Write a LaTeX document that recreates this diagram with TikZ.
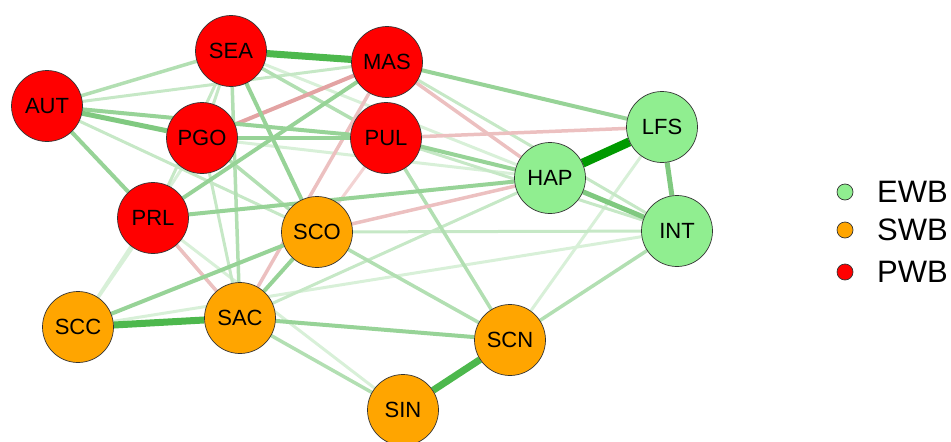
\documentclass[tikz,border=0pt]{standalone}
\usepackage{fontspec}
\setmainfont{Liberation Sans}
\usetikzlibrary{backgrounds}
\definecolor{lgreen}{HTML}{90EE90}
\definecolor{orng}{HTML}{FFA500}
\definecolor{gA}{HTML}{009A00}
\definecolor{gB}{HTML}{4DB84D}
\definecolor{gC}{HTML}{80C980}
\definecolor{gD}{HTML}{97D397}
\definecolor{gE}{HTML}{B2DFB2}
\definecolor{gF}{HTML}{C6E8C6}
\definecolor{gG}{HTML}{D8F0D8}
\definecolor{rA}{HTML}{E3A3A3}
\definecolor{rB}{HTML}{ECC0C0}
\definecolor{rC}{HTML}{F3D3D3}
\tikzset{
  nd/.style={circle, draw=black!80, line width=0.7pt, minimum size=71pt, inner sep=0pt, font=\fontsize{22}{22}\selectfont},
  pwb/.style={nd, fill=red},
  swb/.style={nd, fill=orng},
  ewb/.style={nd, fill=lgreen},
  lg/.style={circle, draw=black!80, line width=0.7pt, minimum size=16pt, inner sep=0pt},
  lt/.style={anchor=west, inner sep=0pt, font=\fontsize{31}{31}\selectfont},
  eA/.style={draw=gA, line width=9pt},
  eB/.style={draw=gB, line width=7pt},
  eC/.style={draw=gC, line width=5pt},
  eD/.style={draw=gD, line width=4pt},
  eE/.style={draw=gE, line width=3.5pt},
  eF/.style={draw=gF, line width=3pt},
  eG/.style={draw=gG, line width=3pt},
  rA/.style={draw=rA, line width=4pt},
  rB/.style={draw=rB, line width=3.5pt},
  rC/.style={draw=rC, line width=3pt}
}
\begin{document}
\begin{tikzpicture}[x=1pt, y=-1pt]
\useasboundingbox (0,0) rectangle (951,442);
% nodes
\node[pwb] (SEA) at (231,51) {SEA};
\node[pwb] (MAS) at (387,62) {MAS};
\node[pwb] (AUT) at (47,106) {AUT};
\node[pwb] (PGO) at (202,138) {PGO};
\node[pwb] (PUL) at (386,138) {PUL};
\node[pwb] (PRL) at (153,218) {PRL};
\node[ewb] (LFS) at (662,127) {LFS};
\node[ewb] (HAP) at (550,178) {HAP};
\node[ewb] (INT) at (677,231) {INT};
\node[swb] (SCO) at (317,232) {SCO};
\node[swb] (SCC) at (78,327) {SCC};
\node[swb] (SAC) at (240,318) {SAC};
\node[swb] (SCN) at (510,340) {SCN};
\node[swb] (SIN) at (403,410) {SIN};
% edges
\begin{scope}[on background layer]
% lightest
\draw[eG] (SCC) -- (INT);
\draw[eG] (SCN) -- (LFS);
\draw[eG] (SCC) -- (PRL);
\draw[eG] (SCC) -- (PGO);
\draw[eG] (PRL) -- (SIN);
\draw[eG] (SEA) -- (HAP);
\draw[eG] (PGO) -- (HAP);
% light
\draw[eF] (AUT) -- (MAS);
\draw[eF] (AUT) -- (SCO);
\draw[eF] (SCO) -- (INT);
\draw[eF] (SAC) -- (HAP);
\draw[eF] (SEA) -- (PGO);
\draw[eF] (SEA) -- (PRL);
\draw[eF] (PGO) -- (SAC);
\draw[eF] (MAS) -- (INT);
\draw[eF] (PUL) -- (INT);
\draw[eF] (PRL) -- (SAC);
\draw[eE] (AUT) -- (SEA);
\draw[eE] (SEA) -- (PUL);
\draw[eE] (PGO) -- (SCO);
\draw[eE] (SEA) -- (SAC);
\draw[eE] (PUL) -- (SCN);
\draw[eE] (SCO) -- (SCN);
\draw[eE] (SAC) -- (SIN);
\draw[eE] (SCN) -- (INT);
% red
\draw[rC] (SCO) -- (PUL);
\draw[rB] (MAS) -- (HAP);
\draw[rB] (PUL) -- (LFS);
\draw[rB] (SAC) -- (MAS);
\draw[rB] (PRL) -- (SAC);
\draw[rB] (SCO) -- (HAP);
\draw[rA] (PGO) -- (MAS);
% medium
\draw[eD] (MAS) -- (LFS);
\draw[eD] (PRL) -- (MAS);
\draw[eD] (SAC) -- (SCN);
\draw[eD] (AUT) -- (PRL);
\draw[eD] (SEA) -- (SCO);
\draw[eD] (SCC) -- (SCO);
\draw[eD] (SAC) -- (SCO);
\draw[eD] (PRL) -- (HAP);
\draw[eD] (PUL) -- (HAP);
\draw[eD] (PGO) -- (PUL);
\draw[eD] (AUT) -- (PUL);
\draw[eC] (AUT) -- (PGO);
\draw[eC] (LFS) -- (INT);
\draw[eC] (HAP) -- (INT);
% strong
\draw[eB] (SEA) -- (MAS);
\draw[eB] (SCC) -- (SAC);
\draw[eB] (SCN) -- (SIN);
\draw[eA] (HAP) -- (LFS);
\end{scope}
% legend
\node[lg, fill=lgreen] (L1) at (845,192) {};
\node[lg, fill=orng] (L2) at (845,230) {};
\node[lg, fill=red] (L3) at (845,272) {};
\node[lt] (T1) at (877,192) {EWB};
\node[lt] (T2) at (877,230) {SWB};
\node[lt] (T3) at (877,272) {PWB};
\end{tikzpicture}
\end{document}
